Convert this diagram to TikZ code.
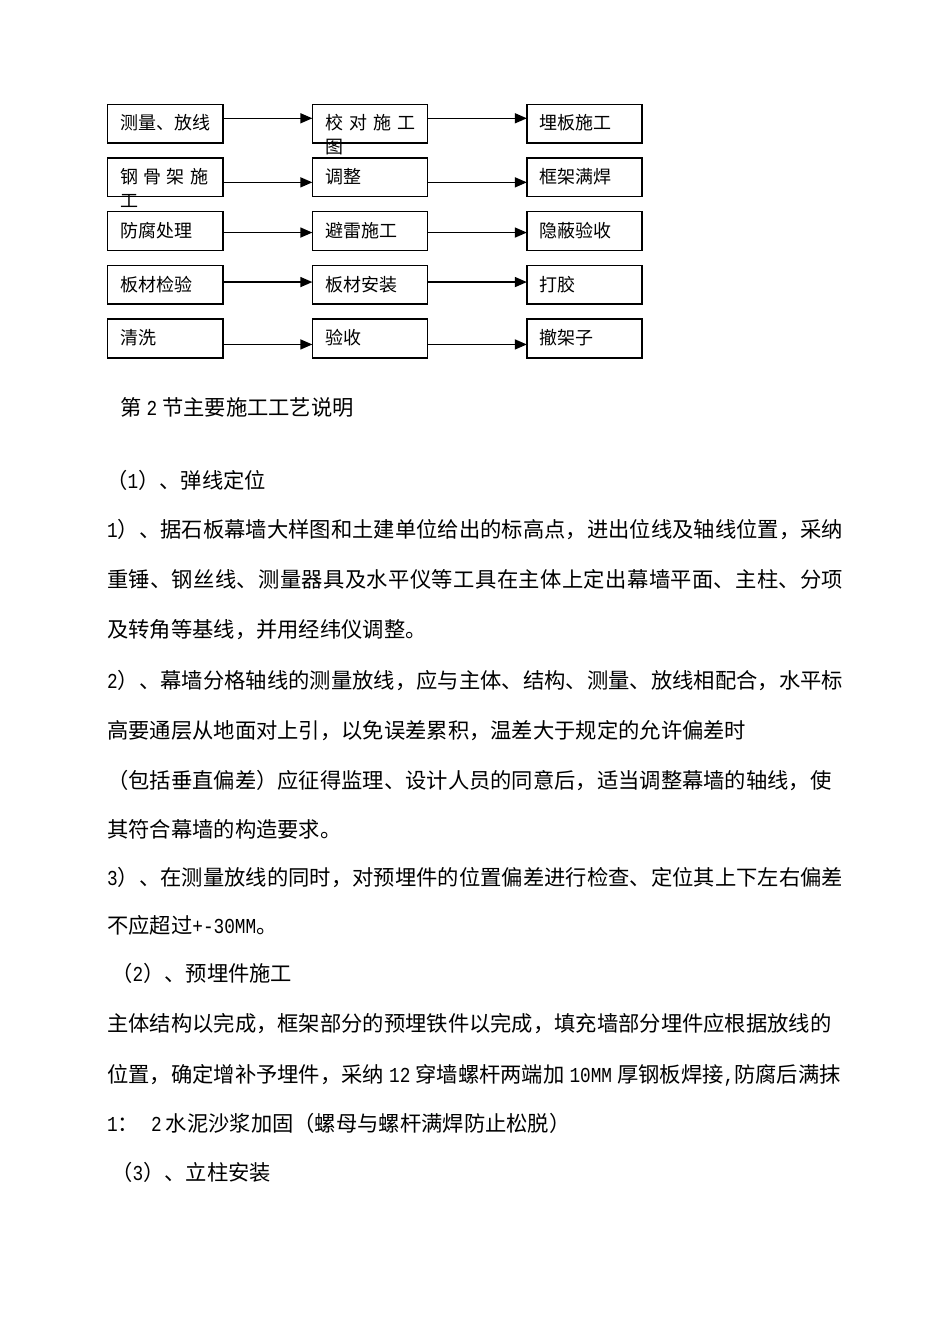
\documentclass[tikz,border=0pt]{standalone}
\usepackage{fontspec}
\usepackage{graphicx}
\setmainfont{Noto Sans CJK SC}
\newfontfamily\latfont{Liberation Mono}
\usetikzlibrary{arrows.meta,calc}
\XeTeXlinebreaklocale "zh"
\XeTeXlinebreakskip=0pt plus 2pt
\newcommand\lat[1]{\scalebox{0.8333}[1]{\latfont #1}}
\newcommand\jline[1]{\parbox[b]{736pt}{\parfillskip=0pt #1}}
\tikzset{
  box/.style={draw=black, line width=1.5pt, minimum width=115.3pt, minimum height=38.7pt, inner sep=0pt, outer sep=0pt},
  btxt/.style={anchor=base west, inner sep=0pt, font=\fontsize{18pt}{24pt}\selectfont},
  body/.style={anchor=base west, inner sep=0pt, font=\fontsize{21.3pt}{26pt}\selectfont},
  link/.style={line width=1.5pt, -{Triangle[length=12pt,width=10pt]}}
}
\begin{document}
\begin{tikzpicture}[x=1pt,y=-1pt]
\useasboundingbox (0,0) rectangle (950,1344);
\fill[white] (0,0) rectangle (950,1344);

% boxes
\foreach \r/\yy in {1/123.65,2/177.35,3/231.05,4/284.75,5/338.45}{
  \node[box] (b\r1) at (165.2,\yy) {};
  \node[box] (b\r2) at (370.0,\yy) {};
  \node[box] (b\r3) at (584.5,\yy) {};
}

% box texts
\node[btxt] (t11) at ($(b11.west)+(12.5,6.3)$) {测量、放线};
\node[btxt] (t12) at ($(b12.west)+(12.5,6.3)$) {\vtop{\baselineskip=24pt\hbox{校\kern6pt 对\kern6pt 施\kern6pt 工}\hbox{图}}};
\node[btxt] (t13) at ($(b13.west)+(12.5,6.3)$) {埋板施工};
\node[btxt] (t21) at ($(b21.west)+(12.5,6.3)$) {\vtop{\baselineskip=24pt\hbox{钢\kern5.3pt 骨\kern5.3pt 架\kern5.3pt 施}\hbox{工}}};
\node[btxt] (t22) at ($(b22.west)+(12.5,6.3)$) {调整};
\node[btxt] (t23) at ($(b23.west)+(12.5,6.3)$) {框架满焊};
\node[btxt] (t31) at ($(b31.west)+(12.5,6.3)$) {防腐处理};
\node[btxt] (t32) at ($(b32.west)+(12.5,6.3)$) {避雷施工};
\node[btxt] (t33) at ($(b33.west)+(12.5,6.3)$) {隐蔽验收};
\node[btxt] (t41) at ($(b41.west)+(12.5,6.3)$) {板材检验};
\node[btxt] (t42) at ($(b42.west)+(12.5,6.3)$) {板材安装};
\node[btxt] (t43) at ($(b43.west)+(12.5,6.3)$) {打胶};
\node[btxt] (t51) at ($(b51.west)+(12.5,6.3)$) {清洗};
\node[btxt] (t52) at ($(b52.west)+(12.5,6.3)$) {验收};
\node[btxt] (t53) at ($(b53.west)+(12.5,6.3)$) {撤架子};

% arrows
\foreach \r/\dy in {1/-5.35,2/5,3/1.5,4/-2.7,5/6}{
  \draw[link] ($(b\r1.east)+(0,\dy)$) -- ($(b\r2.west)+(0,\dy)$);
  \draw[link] ($(b\r2.east)+(0,\dy)$) -- ($(b\r3.west)+(0,\dy)$);
}

% body text
\node[body] (l1) at (120,415) {第\kern5pt\lat{2}\kern5pt 节主要施工工艺说明};
\node[body] (l2) at (106,488) {（\lat{1}）、弹线定位};
\node[body] (l3) at (107,537) {\jline{\lat{1}）、据石板幕墙大样图和土建单位给出的标高点，进出位线及轴线位置，采纳}};
\node[body] (l4) at (107,587) {\jline{重锤、钢丝线、测量器具及水平仪等工具在主体上定出幕墙平面、主柱、分项}};
\node[body] (l5) at (107,637) {及转角等基线，并用经纬仪调整。};
\node[body] (l6) at (107,688) {\jline{\lat{2}）、幕墙分格轴线的测量放线，应与主体、结构、测量、放线相配合，水平标}};
\node[body] (l7) at (107,738) {高要通层从地面对上引，以免误差累积，温差大于规定的允许偏差时};
\node[body] (l8) at (107,788) {（包括垂直偏差）应征得监理、设计人员的同意后，适当调整幕墙的轴线，使};
\node[body] (l9) at (107,837) {其符合幕墙的构造要求。};
\node[body] (l10) at (107,885) {\jline{\lat{3}）、在测量放线的同时，对预埋件的位置偏差进行检查、定位其上下左右偏差}};
\node[body] (l11) at (107,933) {不应超过\lat{+-30MM}。};
\node[body] (l12) at (111,981) {（\lat{2}）、预埋件施工};
\node[body] (l13) at (107,1031) {主体结构以完成，框架部分的预埋铁件以完成，填充墙部分埋件应根据放线的};
\node[body] (l14) at (107,1082) {位置，确定增补予埋件，采纳\kern5pt\lat{12}\kern5pt 穿墙螺杆两端加\kern5pt\lat{10MM}\kern5pt 厚钢板焊接\lat{,}防腐后满抹};
\node[body] (l15) at (107,1131) {\lat{1}：\kern12pt\lat{2}\kern4pt 水泥沙浆加固（螺母与螺杆满焊防止松脱）};
\node[body] (l16) at (111,1180) {（\lat{3}）、立柱安装};
\end{tikzpicture}
\end{document}
